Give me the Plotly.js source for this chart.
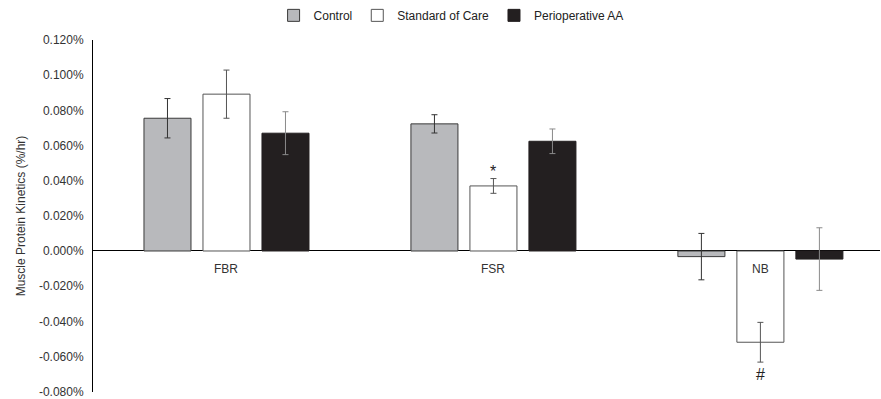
<!DOCTYPE html>
<html>
<head>
<meta charset="utf-8">
<script src="https://cdn.plot.ly/plotly-3.0.1.min.js"></script>
<style>html,body{margin:0;padding:0;background:#fff;}#chart{width:881px;height:399px;}</style>
</head>
<body>
<div id="chart"></div>
<script>
// Data (values in %/hr)
const categories = ["FBR", "FSR", "NB"];
const seriesNames = ["Control", "Standard of Care", "Perioperative AA"];
const controlVals = [0.0755, 0.0723, -0.0032];
const controlErr  = [0.0112, 0.0052, 0.0132];
const socVals     = [0.0892, 0.0370, -0.0519];
const socErr      = [0.0137, 0.0042, 0.0113];
const perioVals   = [0.0670, 0.0624, -0.0046];
const perioErr    = [0.0122, 0.0070, 0.0178];
const yTickVals   = [-0.08, -0.06, -0.04, -0.02, 0, 0.02, 0.04, 0.06, 0.08, 0.10, 0.12];
const yTickText   = ["-0.080%", "-0.060%", "-0.040%", "-0.020%", "0.000%", "0.020%", "0.040%", "0.060%", "0.080%", "0.100%", "0.120%"];
const markLabels  = [{cat: "FSR", text: "*", val: 0.0412, side: "above"}, {cat: "NB", text: "#", val: -0.0632, side: "below"}];

const font = "Liberation Sans, Arial, sans-serif";

function mk(name, vals, errs, fill, line, errColor) {
  return {
    type: "bar", name: name, x: categories, y: vals,
    marker: {color: fill, line: {color: line, width: 1}},
    error_y: {type: "data", array: errs, visible: true, color: errColor, thickness: 1, width: 3},
    hoverinfo: "skip"
  };
}

const traces = [
  mk(seriesNames[0], controlVals, controlErr, "#b8b9bc", "#3a3a3a", "#333333"),
  mk(seriesNames[1], socVals, socErr, "#ffffff", "#555555", "#555555"),
  mk(seriesNames[2], perioVals, perioErr, "#231f20", "#231f20", "#8a8a8a")
];

const annotations = categories.map(c => ({
  x: c, y: 0, xref: "x", yref: "y", text: c, showarrow: false,
  yanchor: "top", yshift: -9, font: {family: font, size: 12, color: "#333333"}
})).concat(markLabels.map(m => ({
  x: m.cat, y: m.val, xref: "x", yref: "y", text: m.text, showarrow: false,
  yanchor: m.side === "above" ? "bottom" : "top", yshift: m.side === "above" ? -3 : -2,
  font: {family: font, size: 16, color: "#222222"}
})));

const layout = {
  width: 881, height: 399,
  margin: {l: 93, r: 1, t: 38, b: 7},
  paper_bgcolor: "#ffffff", plot_bgcolor: "#ffffff",
  font: {family: font, size: 11, color: "#333333"},
  barmode: "group", bargap: 0.337, bargroupgap: 0.203,
  showlegend: true,
  legend: {orientation: "h", x: 0.455, xanchor: "center", y: 1.07, yanchor: "middle",
           font: {family: font, size: 12, color: "#222222"}, traceorder: "normal",
           itemwidth: 30, bgcolor: "rgba(0,0,0,0)"},
  xaxis: {range: [-0.5, 2.448], showticklabels: false, showline: false, showgrid: false,
          zeroline: false, ticks: "", fixedrange: true},
  yaxis: {range: [-0.0802, 0.12], tickvals: yTickVals, ticktext: yTickText,
          showgrid: false, showline: true, linecolor: "#000000", linewidth: 1,
          zeroline: true, zerolinecolor: "#000000", zerolinewidth: 1,
          ticks: "", ticklabelstandoff: 6,
          tickfont: {family: font, size: 12, color: "#333333"},
          title: {text: "Muscle Protein Kinetics (%/hr)", font: {family: font, size: 12, color: "#333333"}, standoff: 10}},
  annotations: annotations
};

Plotly.newPlot("chart", traces, layout, {staticPlot: true, displayModeBar: false});
</script>
</body>
</html>
